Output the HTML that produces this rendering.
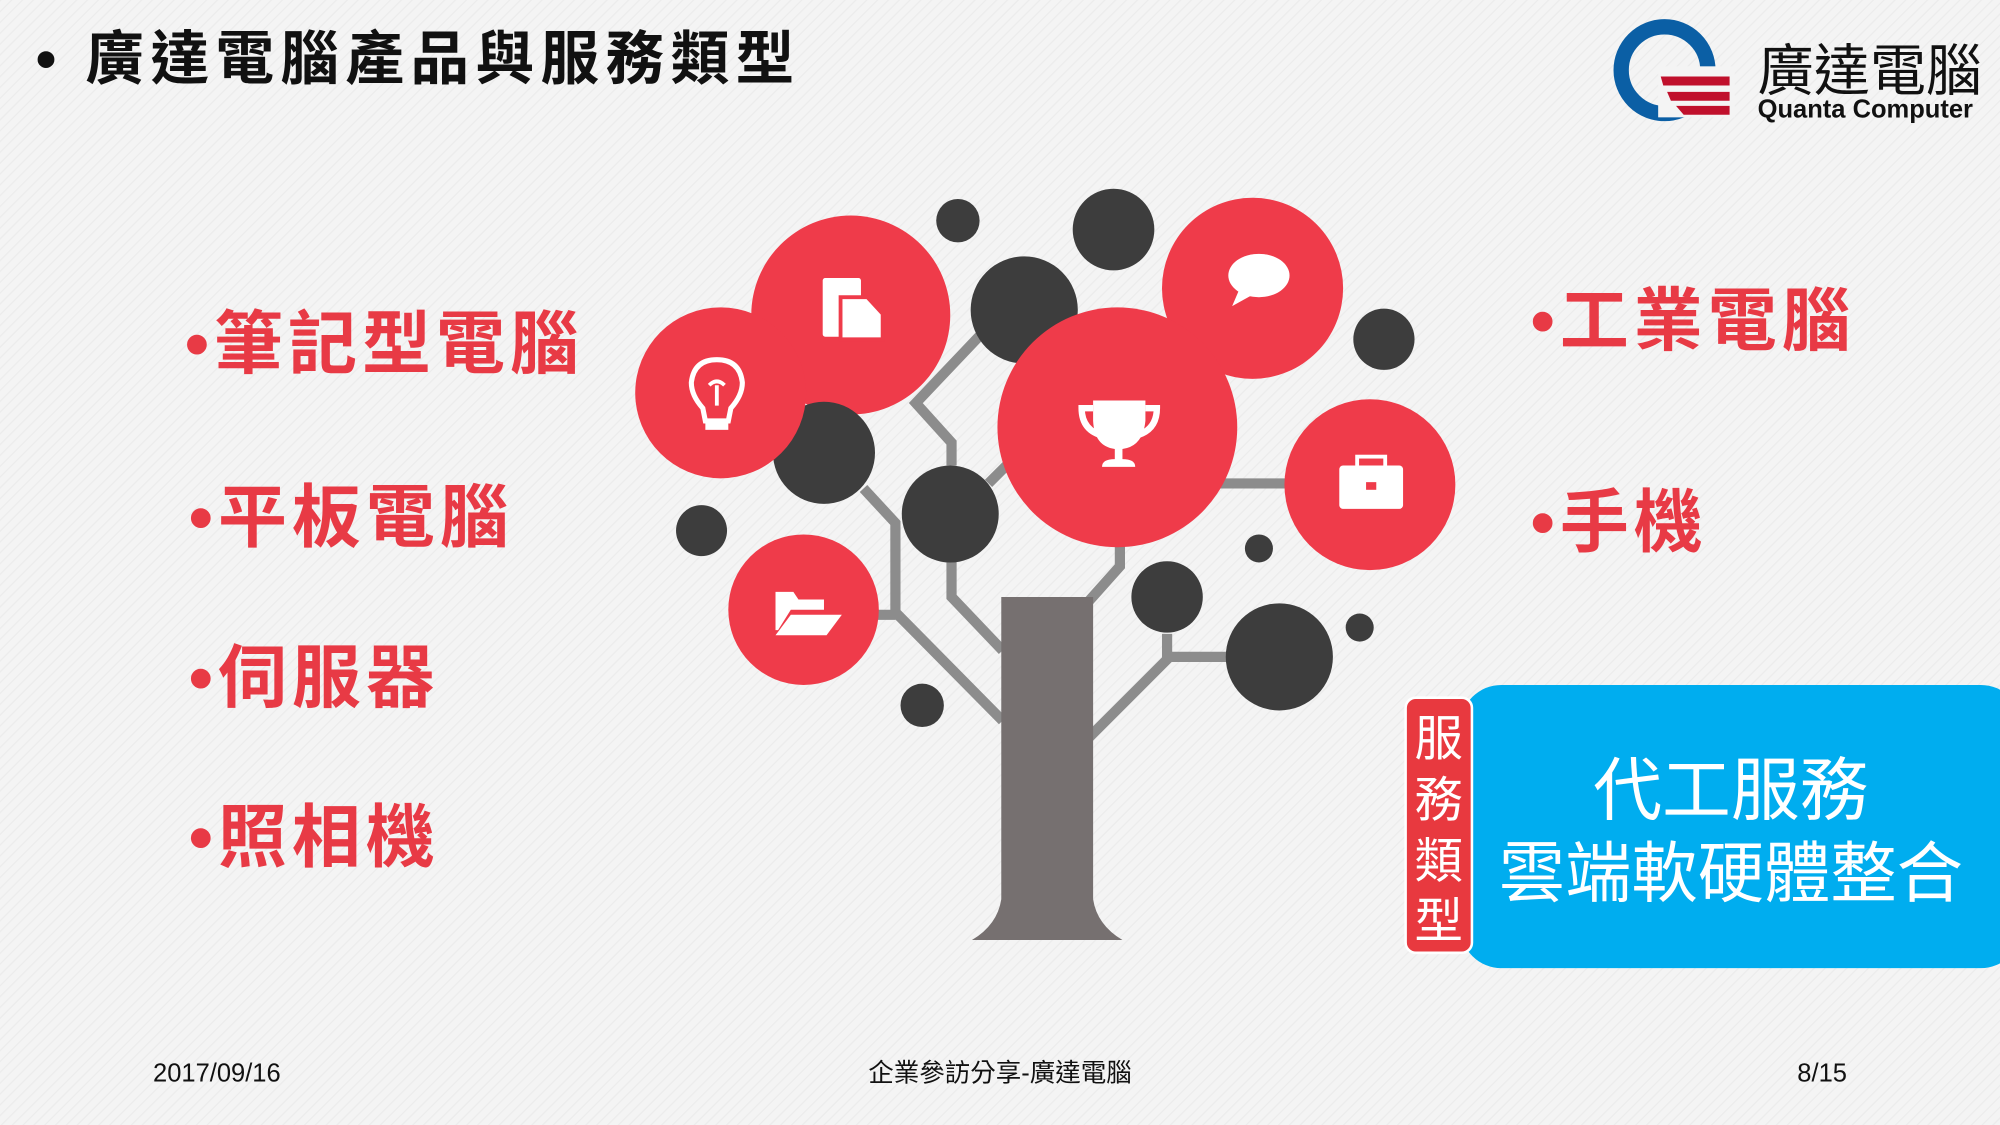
<!DOCTYPE html>
<html><head><meta charset="utf-8"><style>
html,body{margin:0;padding:0;background:#f3f3f3;}
svg{display:block;}
text{font-family:"Liberation Sans","Noto Sans CJK TC",sans-serif;}
</style></head><body>
<svg width="2000" height="1125" viewBox="0 0 1568 882" xmlns="http://www.w3.org/2000/svg">
<defs>
<pattern id="st" width="6" height="6" patternUnits="userSpaceOnUse" patternTransform="rotate(45)">
<rect width="6" height="6" fill="#f4f4f4"/><rect width="1" height="6" fill="#ececec"/></pattern>
</defs>
<rect width="1568" height="882" fill="url(#st)"/>
<!-- title -->
<text x="28" y="62" font-size="46" font-weight="bold" fill="#111" letter-spacing="5">• 廣達電腦產品與服務類型</text>
<!-- logo -->
<circle cx="1305" cy="55" r="34" fill="none" stroke="#0b5fa5" stroke-width="12"/>
<rect x="1300" y="52" width="60" height="40" fill="#f4f4f4"/>
<path d="M1302 60 H1356 V67 H1304 Z" fill="#c0102c"/>
<path d="M1307 72 H1356 V79 H1310 Z" fill="#c0102c"/>
<path d="M1314 83 H1356 V90 H1320 Z" fill="#c0102c"/>
<text x="1378" y="71" font-size="44" fill="#111">廣達電腦</text>
<text x="1378" y="92" font-size="20" font-weight="bold" fill="#111">Quanta Computer</text>
<!-- lists -->
<g fill="#e83a45" font-weight="bold" font-size="54" letter-spacing="4">
<text x="145" y="288">•筆記型電腦</text>
<text x="148" y="424">•平板電腦</text>
<text x="148" y="550">•伺服器</text>
<text x="148" y="675">•照相機</text>
<text x="1200" y="270">•工業電腦</text>
<text x="1200" y="428">•手機</text>
</g>
<!-- branches -->
<g fill="none" stroke="#8c8c8c" stroke-width="8" stroke-linejoin="miter">
<polyline points="773,258 718,316 746,347 746,365"/>
<polyline points="746,438 746,468 786,510"/>
<line x1="775" y1="379" x2="789" y2="365"/>
<polyline points="677,383 702,410 702,480 786,565"/>
<line x1="688" y1="482" x2="702" y2="482"/>
<polyline points="878,426 878,444 853,472"/>
<polyline points="854,578 915,517 915,497"/>
<line x1="915" y1="515" x2="962" y2="515"/>
<line x1="950" y1="379" x2="1008" y2="379"/>
</g>
<!-- trunk -->
<path d="M785 468 H857 V705 Q860 725 880 737 H762 Q782 725 785 705 Z" fill="#767070"/>
<!-- dark circles -->
<g fill="#3d3d3d">
<circle cx="751" cy="173" r="17"/>
<circle cx="873" cy="180" r="32"/>
<circle cx="803" cy="243" r="42"/>
<circle cx="1085" cy="266" r="24"/>
<circle cx="550" cy="416" r="20"/>
<circle cx="987" cy="430" r="11"/>
<circle cx="915" cy="468" r="28"/>
<circle cx="1003" cy="515" r="42"/>
<circle cx="1066" cy="492" r="11"/>
<circle cx="723" cy="553" r="17"/>
</g>
<g fill="#ef3b4a">
<circle cx="667" cy="247" r="78"/>
<circle cx="982" cy="226" r="71"/>
</g>
<circle cx="646" cy="355" r="40" fill="#3d3d3d"/>
<circle cx="565" cy="308" r="67" fill="#ef3b4a"/>
<circle cx="745" cy="403" r="38" fill="#3d3d3d"/>
<g fill="#ef3b4a">
<circle cx="876" cy="335" r="94"/>
<circle cx="1074" cy="380" r="67"/>
<circle cx="630" cy="478" r="59"/>
</g>
<!-- icons -->
<g fill="#fff">
<rect x="645" y="218" width="30" height="46" rx="2"/>
<path d="M659 233 H680 L692 246 V266 H659 Z" fill="#fff" stroke="#ef3b4a" stroke-width="3"/>
<ellipse cx="987" cy="216" rx="24" ry="17"/>
<path d="M972 226 L966 240 L984 230 Z"/>
<path d="M857 314 H898 V330 Q896 350 880 352 V360 Q890 360 890 366 H864 Q864 360 874 360 V352 Q858 350 857 330 Z"/>
<path d="M857 320 H848 Q848 338 866 342" fill="none" stroke="#fff" stroke-width="5"/>
<path d="M898 320 H907 Q907 338 889 342" fill="none" stroke="#fff" stroke-width="5"/>
<rect x="1050" y="365" width="50" height="34" rx="3"/>
<rect x="1064" y="358" width="22" height="9" fill="none" stroke="#fff" stroke-width="3"/>
<rect x="1071" y="378" width="8" height="6" fill="#ef3b4a"/>
<path d="M608 464 H622 L626 470 H646 V478 H620 L610 494 H608 Z"/>
<path d="M620 482 H660 L648 498 H608 Z"/>
<path d="M562 282 Q580 282 582 300 Q582 310 573 320 L571 330 H553 L551 320 Q542 310 542 300 Q544 282 562 282 Z" fill="none" stroke="#fff" stroke-width="4"/>
<rect x="553" y="332" width="18" height="5"/>
<path d="M562 318 V302 M556 302 Q562 296 568 302" fill="none" stroke="#fff" stroke-width="3"/>
</g>
<!-- blue box -->
<rect x="1145" y="537" width="440" height="222" rx="32" fill="#00adef"/>
<text x="1357" y="638" font-size="54" fill="#fff" text-anchor="middle">代工服務</text>
<text x="1357" y="703" font-size="52" fill="#fff" text-anchor="middle">雲端軟硬體整合</text>
<rect x="1102" y="547" width="52" height="200" rx="8" fill="#e8393f" stroke="#fff" stroke-width="2"/>
<g font-size="38" fill="#fff" text-anchor="middle">
<text x="1128" y="592">服</text>
<text x="1128" y="640">務</text>
<text x="1128" y="688">類</text>
<text x="1128" y="735">型</text>
</g>
<!-- footer -->
<g font-size="20" fill="#111">
<text x="120" y="848">2017/09/16</text>
<text x="784" y="848" text-anchor="middle">企業參訪分享-廣達電腦</text>
<text x="1448" y="848" text-anchor="end">8/15</text>
</g>
</svg>
</body></html>
